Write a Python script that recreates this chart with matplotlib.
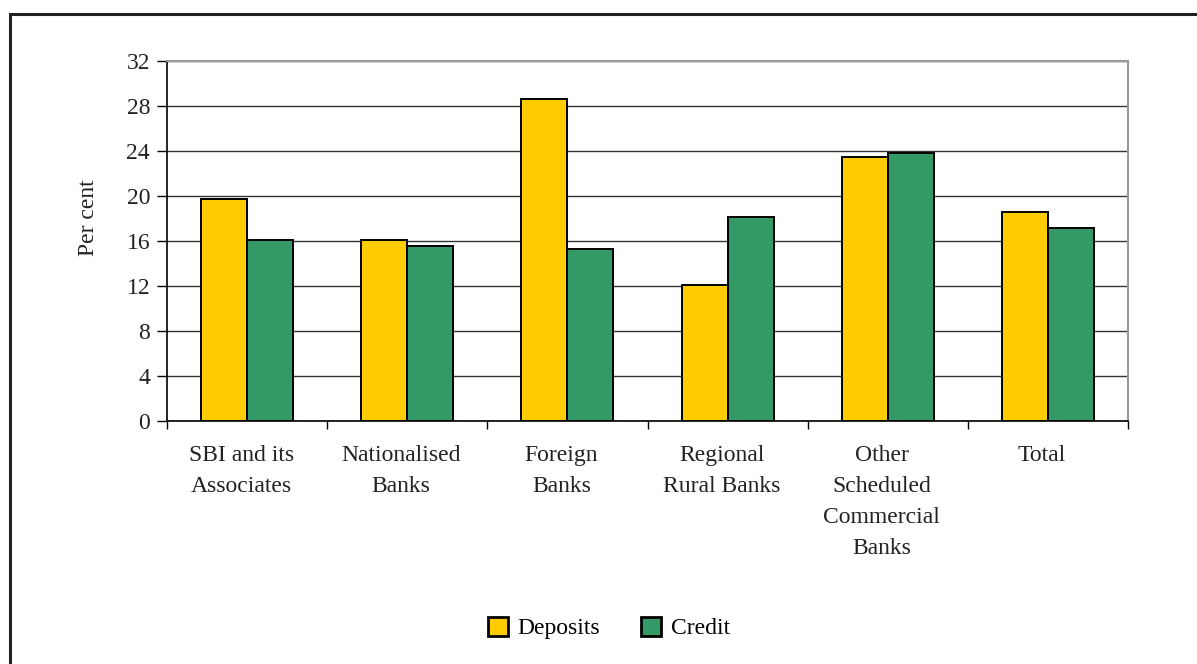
import matplotlib
matplotlib.use("Agg")
import matplotlib.pyplot as plt
import matplotlib.transforms as mtransforms
import numpy as np
from matplotlib.patches import Rectangle

categories = ["SBI and its\nAssociates", "Nationalised\nBanks", "Foreign\nBanks",
              "Regional\nRural Banks", "Other\nScheduled\nCommercial\nBanks", "Total"]
deposits = [19.7, 16.1, 28.6, 12.1, 23.5, 18.6]
credit = [16.1, 15.6, 15.3, 18.1, 23.8, 17.2]
series_names = ["Deposits", "Credit"]
yticks = [0, 4, 8, 12, 16, 20, 24, 28, 32]

plt.rcParams['font.family'] = ['Liberation Serif', 'DejaVu Serif']

W, H = 1197, 664
FS = 17
fig = plt.figure(figsize=(W / 100, H / 100), dpi=100)
ax = fig.add_axes([167 / W, 1 - 421 / H, (1128 - 167) / W, (421 - 61) / H])

x = np.arange(len(categories))
bw = 0.2875
ax.bar(x - bw / 2, deposits, bw, color="#FFCC00", edgecolor="black", linewidth=1.4,
       label=series_names[0], zorder=3)
ax.bar(x + bw / 2, credit, bw, color="#339966", edgecolor="black", linewidth=1.4,
       label=series_names[1], zorder=3)

ax.set_xlim(-0.5, len(categories) - 0.5)
ax.set_ylim(0, 32)
ax.set_yticks(yticks)
ax.set_yticklabels([str(v) for v in yticks], fontsize=FS, color="#222222")
ax.yaxis.grid(True, color="#333333", linewidth=1.0, zorder=0)
ax.set_axisbelow(True)

ax.set_xticks(np.arange(len(categories) + 1) - 0.5, minor=False)
ax.set_xticklabels([])
ax.set_xticks(x, minor=True)
ax.set_xticklabels(categories, minor=True, fontsize=FS, color="#222222", linespacing=1.64,
                   va="top")
ax.tick_params(axis="x", which="minor", length=0, pad=17)
ax.tick_params(axis="x", which="major", length=6, width=1.0, direction="out", color="black")
ax.tick_params(axis="y", length=7.2, width=1.0, direction="out", pad=5, color="black")

shift = mtransforms.ScaledTranslation(-6 / 100, 0, fig.dpi_scale_trans)
for lbl in ax.get_xticklabels(minor=True):
    lbl.set_transform(lbl.get_transform() + shift)

for s in ["left", "bottom"]:
    ax.spines[s].set_color("black")
    ax.spines[s].set_linewidth(1.2)
for s in ["top", "right"]:
    ax.spines[s].set_color("#999999")
    ax.spines[s].set_linewidth(1.5)

ax.set_ylabel("Per cent", fontsize=FS, color="#222222")
ax.yaxis.set_label_coords((88 - 167) / (1128 - 167), (421 - 218) / 360)
ax.yaxis.label.set_va("center")

leg = fig.legend(loc="center", bbox_to_anchor=(609 / W, 1 - 628 / H), ncol=2, frameon=False,
                 fontsize=FS, handlelength=0.85, handleheight=0.85, columnspacing=1.75,
                 handletextpad=0.4)
for p in leg.get_patches():
    p.set_linewidth(2.0)

# outer frame (left and top visible)
fig.patches.append(Rectangle((9.5 / W, -0.05), 1.2, 1 - 13.7 / H + 0.05, transform=fig.transFigure,
                             fill=False, edgecolor="#222222", linewidth=2.2))

fig.savefig("out.png", dpi=100)
